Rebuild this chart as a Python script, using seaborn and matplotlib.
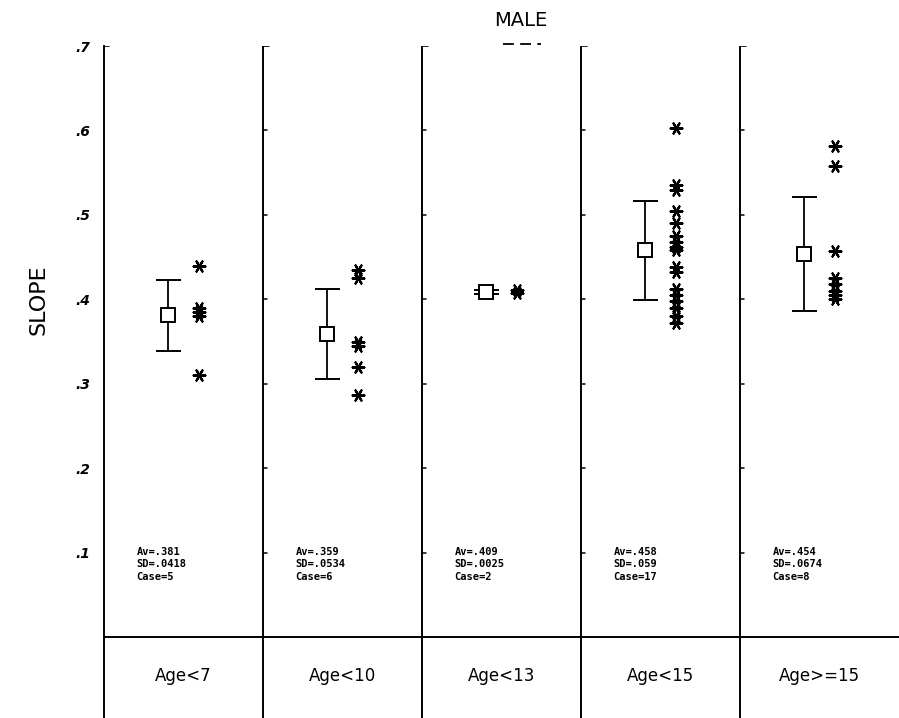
import matplotlib
matplotlib.use("Agg")
import matplotlib.pyplot as plt
from matplotlib.lines import Line2D
import seaborn as sns
import pandas as pd
import numpy as np

# ---- data ----
groups = ["Age<7", "Age<10", "Age<13", "Age<15", "Age>=15"]
av = [0.381, 0.359, 0.409, 0.458, 0.454]
sd = [0.0418, 0.0534, 0.0025, 0.059, 0.0674]
cases = [5, 6, 2, 17, 8]
av_txt = [".381", ".359", ".409", ".458", ".454"]
sd_txt = [".0418", ".0534", ".0025", ".059", ".0674"]
pts_age7 = [0.440, 0.390, 0.385, 0.380, 0.310]
pts_age10 = [0.435, 0.425, 0.350, 0.345, 0.320, 0.287]
pts_age13 = [0.411, 0.407]
pts_age15 = [0.603, 0.535, 0.530, 0.505, 0.490, 0.475, 0.468, 0.462, 0.458,
             0.438, 0.432, 0.412, 0.405, 0.398, 0.390, 0.380, 0.372]
pts_age15p = [0.582, 0.558, 0.457, 0.425, 0.418, 0.410, 0.405, 0.400]
yticks = [0.1, 0.2, 0.3, 0.4, 0.5, 0.6, 0.7]
ytick_labels = [".1", ".2", ".3", ".4", ".5", ".6", ".7"]

all_pts = [pts_age7, pts_age10, pts_age13, pts_age15, pts_age15p]
rows = []
for i, pts in enumerate(all_pts):
    for v in pts:
        rows.append({"pos": i + 0.60, "slope": v})
df = pd.DataFrame(rows)

sns.set_style("white")
plt.rcParams['font.family'] = ['DejaVu Sans']
plt.rcParams['text.color'] = 'black'
plt.rcParams['ytick.color'] = 'black'

W, H = 899, 718
fig = plt.figure(figsize=(W / 100, H / 100), dpi=100)
y0_px, y7_px = 637, 46
unit = (y0_px - y7_px) / 0.7
ymin = -(H - y0_px) / unit
ax = fig.add_axes([104 / W, 0, (W - 104) / W, (H - y7_px) / H])
ax.set_xlim(0, 5)
ax.set_ylim(ymin, 0.7)

for s in ["top", "right", "bottom"]:
    ax.spines[s].set_visible(False)
ax.spines["left"].set_linewidth(1.4)
ax.spines["left"].set_color("black")

# stars
sns.scatterplot(data=df, x="pos", y="slope", ax=ax, marker=(6, 2, 90),
                s=70, color="black", linewidth=1.6, legend=False)
ax.set_xlabel("")
ax.set_ylabel("")

ax.set_yticks(yticks)
ax.set_yticklabels(ytick_labels, fontsize=10, fontstyle="italic",
                   fontweight="bold", color="black")
ax.tick_params(axis="y", direction="inout", length=8, width=1.2, pad=6)
ax.set_xticks([])

# mean +/- sd
for i in range(5):
    ax.errorbar(i + 0.40, av[i], yerr=sd[i], fmt="s", ms=10, mfc="white",
                mec="black", mew=1.4, ecolor="black", elinewidth=1.3,
                capsize=9, capthick=1.5, zorder=3)

# dividers and zero line
ax.axhline(0, color="black", lw=1.4)
for i in range(1, 5):
    ax.plot([i, i], [ymin, 0.7], color="black", lw=1.4)
    ax.plot([i, i + 0.035], [0.7, 0.7], color="black", lw=1.2)
    for t in yticks[:-1]:
        ax.plot([i, i + 0.025], [t, t], color="black", lw=1.1)
ax.plot([0, 0.03], [0.7, 0.7], color="black", lw=1.2)

# annotations
for i in range(5):
    txt = "Av=%s\nSD=%s\nCase=%d" % (av_txt[i], sd_txt[i], cases[i])
    ax.text(i + 0.205, 0.107, txt, ha="left", va="top", fontsize=7.5,
            fontweight="bold", family="DejaVu Sans Mono", linespacing=1.35,
            color="black")
    ax.text(i + 0.5, ymin / 2 + 0.002, groups[i], ha="center", va="center",
            fontsize=12, color="black")

fig.text(521 / W, 1 - 21 / H, "MALE", ha="center", va="center", fontsize=14,
         color="black")
fig.lines.append(Line2D([503 / W, 541 / W], [1 - 44 / H, 1 - 44 / H],
                        transform=fig.transFigure, color="black", lw=1.3,
                        dashes=(6, 3.5)))
fig.text(38 / W, 1 - 300 / H, "SLOPE", ha="center", va="center", fontsize=16,
         rotation=90, color="black")

fig.savefig("out.png", dpi=100)
